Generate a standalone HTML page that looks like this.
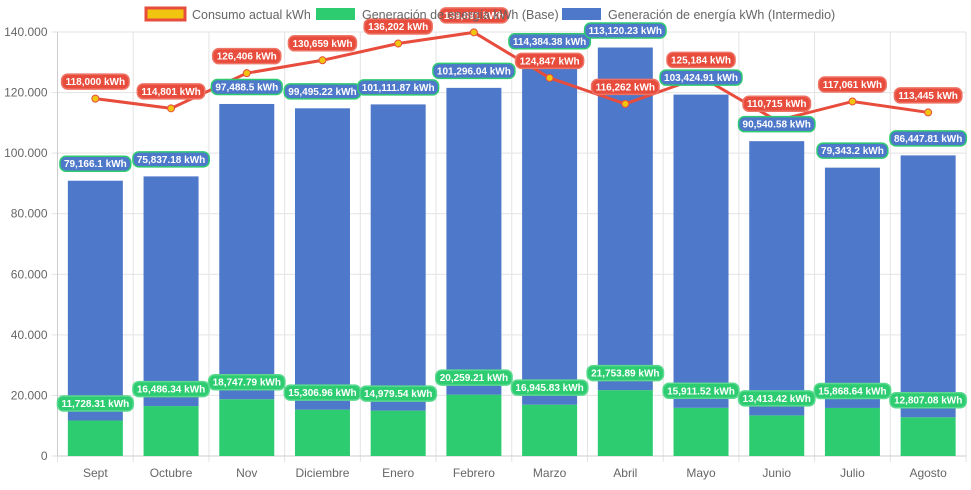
<!DOCTYPE html>
<html><head><meta charset="utf-8"><style>
body{margin:0;background:#fff;font-family:"Liberation Sans",Arial,sans-serif}
svg text{font-family:"Liberation Sans",Arial,sans-serif}
</style></head><body>
<svg id="c" width="971" height="485"></svg>
<script>
const categories=["Sept","Octubre","Nov","Diciembre","Enero","Febrero","Marzo","Abril","Mayo","Junio","Julio","Agosto"];
const baseValues=[11728.31,16486.34,18747.79,15306.96,14979.54,20259.21,16945.83,21753.89,15911.52,13413.42,15868.64,12807.08];
const interValues=[79166.1,75837.18,97488.5,99495.22,101111.87,101296.04,114384.38,113120.23,103424.91,90540.58,79343.2,86447.81];
const consumoValues=[118000,114801,126406,130659,136202,139891,124847,116262,125184,110715,117061,113445];
const yTicks=[0,20000,40000,60000,80000,100000,120000,140000];
const NS="http://www.w3.org/2000/svg",svg=document.getElementById('c');
const L=57.5,R=966,T=32,B=456,yMax=140000;
const bw=(R-L)/categories.length;
const y=v=>B-v/yMax*(B-T);
const xc=i=>L+bw*(i+0.5);
function el(t,a,p){const e=document.createElementNS(NS,t);for(const k in a)e.setAttribute(k,a[k]);(p||svg).appendChild(e);return e;}
const fmt=v=>v.toLocaleString('en-US',{maximumFractionDigits:2})+' kWh';
yTicks.forEach(v=>{
 const g=el('line',{x1:L-6,x2:R,y1:y(v),y2:y(v),stroke:'#e3e3e3'});
 
 
 const t=el('text',{x:L-10,y:y(v)+4,'text-anchor':'end','font-size':12,fill:'#666'});
 t.textContent=v===0?'0':v.toLocaleString('de-DE');
 
 
});
for(let i=0;i<=categories.length;i++){
 const g=el('line',{x1:L+bw*i,x2:L+bw*i,y1:T,y2:B+6,stroke:'#e3e3e3'});
 
 
}
el('line',{x1:L,x2:R,y1:B,y2:B,stroke:'#ccc'});
el('line',{x1:L,x2:L,y1:T,y2:B,stroke:'#ccc'});
categories.forEach((c,i)=>{
 const t=el('text',{x:xc(i),y:B+21,'text-anchor':'middle','font-size':12,fill:'#666'});
 t.textContent=c;
 
 
});
const BW=55;
const labels=[];
categories.forEach((c,i)=>{
 const b=el('rect',{x:xc(i)-BW/2,y:y(baseValues[i]),width:BW,height:B-y(baseValues[i]),fill:'#2ecc71'});
 
 
 const tot=baseValues[i]+interValues[i];
 const r=el('rect',{x:xc(i)-BW/2,y:y(tot),width:BW,height:y(baseValues[i])-y(tot),fill:'#4e78c9'});
 
 
 labels.push([xc(i),y(baseValues[i])-17,fmt(baseValues[i]),'#2ecc71','#5ad98f']);
 labels.push([xc(i),y(tot)-17,fmt(interValues[i]),'#4e78c9','#2ecc71']);
});
const pts=consumoValues.map((v,i)=>xc(i)+','+y(v)).join(' ');
const pl=el('polyline',{points:pts,fill:'none',stroke:'#e74c3c','stroke-width':3});


consumoValues.forEach((v,i)=>{
 const p=el('circle',{cx:xc(i),cy:y(v),r:3.5,fill:'#f1c40f',stroke:'#e74c3c','stroke-width':1});
 
 
 labels.push([xc(i),y(v)-17,fmt(v),'#e74c3c','#ee7466']);
});
labels.forEach(([x,yy,txt,bg,bd])=>{
 const g=el('g',{});
 
 
 const t=el('text',{x:x,y:yy+3.5,'text-anchor':'middle','font-size':10,'font-weight':'bold',fill:'#fff'},g);
 t.textContent=txt;
 const w=t.getComputedTextLength()+8;
 const r=el('rect',{x:x-w/2,y:yy-7.5,width:w,height:15,rx:6,fill:bg,stroke:bd,'stroke-width':1.5},g);
 g.insertBefore(r,t);
});
const leg=[["Consumo actual kWh",'#f1c40f','#e74c3c',146],["Generación de energía kWh (Base)",'#2ecc71','#2ecc71',316],["Generación de energía kWh (Intermedio)",'#4e78c9','#4e78c9',562]];
leg.forEach(([n,f,s,x])=>{
 const g=el('g',{});
 
 
 el('rect',{x:x,y:8,width:39,height:12,fill:f,stroke:s,'stroke-width':s===f?0:3},g);
 const t=el('text',{x:x+46,y:19,'font-size':12.5,fill:'#666'},g);
 t.textContent=n;
});
</script>
</body></html>
